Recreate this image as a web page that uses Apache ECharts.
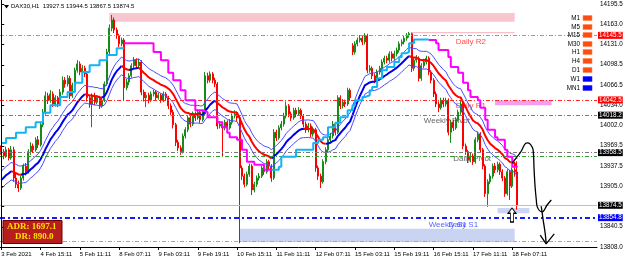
<!DOCTYPE html>
<html>
<head>
<meta charset="utf-8">
<script src="https://cdn.jsdelivr.net/npm/echarts/dist/echarts.min.js"></script>
<style>
  html, body { margin: 0; padding: 0; background: #fff; }
  #chart { width: 625px; height: 267px; }
</style>
</head>
<body>
<div id="chart"></div>
<script>
// DAX30 H1 bars
var opens = [
  13966,13960,13953,13963,13950,13963,13918,13908,13902,13918,
  13937,13928,13960,13969,13963,13979,13971,14003,14023,14049,
  14042,14052,14036,14046,14036,14055,14074,14068,14077,14049,
  14066,14090,14100,14087,14093,14084,14046,14036,14049,14039,
  14046,14033,14042,14068,14119,14157,14170,14154,14145,14132,
  14138,14062,14071,14081,14097,14106,14097,14103,14055,14046,
  14050,14042,14052,14055,14046,14050,14042,14052,14046,14033,
  14023,14003,13975,13966,13960,13985,13995,14014,14004,14020,
  14014,14023,14011,14020,14081,14074,14084,14074,14068,14001,
  14004,13998,14007,13998,14007,14017,14020,14014,13934,13921,
  13908,13924,13937,13899,13908,13918,13921,13934,13928,13944,
  13937,13918,13991,13982,13998,14004,14017,14033,14020,14014,
  14026,14020,14026,14017,14004,13995,14001,13988,13995,13934,
  13921,13912,13944,13963,13979,13985,14004,13991,14046,14033,
  14039,14036,14058,14129,14119,14132,14138,14141,14135,14145,
  14090,14093,14081,14074,14087,14093,14103,14109,14106,14116,
  14109,14116,14122,14132,14135,14141,14146,14148,14093,14106,
  14109,14077,14097,14103,14109,14087,14074,14052,14036,14030,
  14042,14036,14042,13991,14007,13998,14011,14023,14036,13969,
  13960,13947,13953,13944,13979,13988,13963,13937,13893,13912,
  13921,13937,13931,13940,13928,13918,13893,13928,13905,13931,
  13927.5
];
var closes = [
  13960,13953,13963,13950,13963,13918,13908,13902,13918,13937,
  13928,13960,13969,13963,13979,13971,14003,14023,14049,14042,
  14052,14036,14046,14036,14055,14074,14068,14077,14049,14066,
  14090,14100,14087,14093,14084,14046,14036,14049,14039,14046,
  14033,14042,14068,14119,14157,14170,14154,14145,14132,14138,
  14062,14071,14081,14097,14106,14097,14103,14055,14046,14050,
  14042,14052,14055,14046,14050,14042,14052,14046,14033,14023,
  14003,13975,13966,13960,13985,13995,14014,14004,14020,14014,
  14023,14011,14020,14081,14074,14084,14074,14068,14001,14004,
  13998,14007,13998,14007,14017,14020,14014,13934,13921,13908,
  13924,13937,13899,13908,13918,13921,13934,13928,13944,13937,
  13918,13991,13982,13998,14004,14017,14033,14020,14014,14026,
  14020,14026,14017,14004,13995,14001,13988,13995,13934,13921,
  13912,13944,13963,13979,13985,14004,13991,14046,14033,14039,
  14036,14058,14046,14119,14132,14138,14141,14135,14145,14090,
  14093,14081,14074,14087,14093,14103,14109,14106,14116,14109,
  14116,14122,14132,14135,14141,14146,14148,14093,14106,14109,
  14077,14097,14103,14109,14087,14074,14052,14036,14030,14042,
  14036,14042,13991,14007,13998,14011,14023,14036,13969,13960,
  13947,13953,13944,13979,13988,13963,13937,13893,13912,13921,
  13937,13931,13940,13928,13918,13893,13928,13905,13931,13927.5,
  13874.5
];
var lows = [
  13955,13948,13950,13946,13947,13912,13902,13896,13899,13914,
  13922,13925,13955,13958,13960,13966,13968,13999,14019,14036,
  14038,14031,14032,14031,14033,14051,14062,14064,14044,14046,
  14063,14086,14082,14083,14079,14040,14030,13999,14034,14036,
  14028,14030,14039,14065,14115,14152,14149,14140,14127,14128,
  14042,14058,14066,14078,14093,14092,14094,14050,14040,14031,
  14037,14039,14048,14042,14043,14038,14039,14041,14028,14018,
  13997,13969,13961,13955,13957,13981,13991,13999,14001,14009,
  14011,14006,14008,14017,14069,14070,14069,14063,13996,13997,
  13952,13994,13993,13995,14003,14013,14009,13814,13915,13903,
  13905,13920,13891,13895,13904,13914,13918,13923,13925,13932,
  13912,13915,13977,13979,13994,14000,14013,14015,14009,14011,
  14015,14017,14012,13999,13990,13991,13983,13984,13928,13915,
  13902,13909,13940,13959,13975,13981,13986,13988,14028,14029,
  14031,14033,14041,14114,14115,14128,14134,14130,14131,14085,
  14086,14076,14069,14071,14083,14089,14099,14101,14102,14104,
  14106,14112,14118,14128,14131,14137,14142,14087,14089,14102,
  14072,14073,14093,14099,14082,14069,14047,14031,14023,14027,
  14031,14032,13986,13974,13993,13995,14008,14019,13964,13955,
  13942,13943,13939,13941,13975,13958,13932,13888,13872,13908,
  13917,13926,13927,13923,13913,13888,13890,13883,13902,13920,
  13867.5
];
var highs = [
  13970,13964,13968,13966,13969,13968,13925,13914,13922,13941,
  13942,13964,13975,13973,13983,13985,14007,14028,14056,14054,
  14058,14056,14050,14049,14060,14080,14079,14082,14081,14070,
  14094,14106,14104,14098,14097,14087,14050,14053,14054,14050,
  14049,14046,14072,14124,14163,14178,14174,14158,14148,14142,
  14141,14076,14085,14101,14111,14109,14108,14106,14059,14055,
  14054,14056,14059,14058,14054,14053,14056,14055,14049,14037,
  14027,14006,13979,13970,13989,13999,14018,14017,14024,14024,
  14027,14026,14025,14087,14086,14088,14087,14078,14071,14009,
  14008,14011,14010,14012,14021,14026,14024,14018,13938,13925,
  13928,13941,13940,13912,13922,13926,13938,13938,13948,13947,
  13940,13996,13995,14002,14009,14022,14040,14036,14024,14030,
  14030,14031,14029,14020,14008,14006,14005,14000,13998,13938,
  13925,13948,13967,13983,13990,14009,14007,14050,14050,14044,
  14043,14062,14061,14133,14136,14142,14146,14145,14149,14148,
  14098,14096,14085,14091,14097,14107,14113,14113,14120,14120,
  14121,14126,14136,14139,14145,14149,14151,14150,14110,14114,
  14112,14101,14108,14113,14112,14090,14077,14056,14040,14046,
  14046,14046,14045,14011,14011,14015,14027,14041,14040,13973,
  13963,13958,13957,13983,13992,13991,13966,13940,13916,13925,
  13941,13942,13944,13943,13932,13921,13932,13931,13935,13944,
  13944.5
];
var emptyBars = 32;   // chart shift on the right

// trailing stop line: [bar, level] change points
var trailUp1 = [[0,13974],[2,13982],[6,13990],[10,13999],[14,14007],[17,14022],[20,14034],[24,14047],
  [27,14055],[30,14070],[33,14087],[36,14098],[40,14106],[43,14114],[47,14125],[50,14125]];
var trailDn1 = [[50,14133],[62,14119],[65,14106],[68,14086],[70,14074],[73,14058],[75,14042],[79,14026],
  [82,14023],[84,14015],[88,14007],[90,13999],[92,13990],[93,13983],[96,13979],[98,13963],[100,13944],
  [103,13939],[107,13931],[110,13931]];
var trailUp2 = [[110,13931],[113,13936],[114,13952],[120,13963],[127,13974],[129,13979],[131,13983],
  [133,13999],[136,14006],[138,14015],[141,14026],[143,14034],[144,14042],[147,14047],[148,14050],
  [150,14058],[151,14063],[153,14077],[155,14090],[157,14095],[160,14103],[162,14111],[163,14117],
  [165,14119],[166,14133],[168,14139],[174,14139]];
var trailDn2 = [[174,14138],[177,14133],[178,14122],[182,14111],[183,14095],[186,14086],[188,14070],
  [190,14058],[191,14047],[194,14042],[195,14030],[197,14011],[198,13995],[201,13983],[202,13979],
  [205,13963],[206,13952],[208,13936],[210,13936]];

var maPeriod = 20, maSeed = 13910, envPct = 0.001;

var xTickLabels = ['3 Feb 2021','4 Feb 15:11','5 Feb 11:11','8 Feb 07:11','9 Feb 03:11','9 Feb 19:11',
  '10 Feb 15:11','11 Feb 11:11','12 Feb 07:11','15 Feb 03:11','15 Feb 19:11','16 Feb 15:11',
  '17 Feb 11:11','18 Feb 07:11'];
var yTickLabels = ['13808.0','13840.5','','13905.0','13937.5','13969.5','14002.0','14034.0',
  '14066.5','14098.5','14131.0','14163.0','14195.5'];

// pivot levels
var levelPrices = [14145.5, 14042.5, 14018.2, 13958.5, 13952.0, 13874.5, 13854.8, 13817.5];
var levelNames  = ['Daily R2', 'Daily R1', 'Weekly Pivot', 'Daily Pivot', '', '', 'Weekly S1', ''];
var extraLabel  = 'Daily S1';

// zones: [fromBar, toBar, top, bottom]
var zones = [
  [44, 209, 14181, 14167],
  [167, 209, 14151, 14149],
  [201, 224, 14042, 14034],
  [202, 215, 13870, 13862],
  [97, 209, 13837, 13816]
];

var tfNames = ['M1','M5','M15','M30','H1','H4','D1','W1','MN1'];
var tfTrend = ['dn','dn','dn','dn','dn','dn','dn','up','up'];
var adrValue = '1697.1', drValue = '890.0';

// hand drawn arrow (bar, price)
var sketchA = [[208.0,13942],[211.2,13958],[214.1,13974],[215.3,13972],[216.5,13963],[216.9,13931],
  [217.3,13904],[217.8,13883],[218.2,13872],[220.2,13864],[222.2,13875],[223.9,13883]];
var sketchB = [[219.8,13873],[220.6,13851],[221.4,13830],[221.8,13814]];
var sketchHead = [[219.4,13827],[221.8,13813],[225.1,13829]];

// ---------------------------------------------------------------
var chart = echarts.init(document.getElementById('chart'));
var n = closes.length, nAll = n + emptyBars;
var cats = [];
for (var i = 0; i < nAll; i++) cats.push('' + i);
var candles = closes.map(function (c, i) { return [opens[i], c, lows[i], highs[i]]; });

var ma = [], prev = maSeed, k = 2 / (maPeriod + 1);
closes.forEach(function (c) { prev = prev + k * (c - prev); ma.push(prev); });
var maUp = [], maDn = [], envHi = [], envLo = [];
for (i = 0; i < n; i++) {
  var up = i > 0 ? ma[i] >= ma[i - 1] : true;
  var upNext = i < n - 1 ? ma[i + 1] >= ma[i] : up;
  maUp.push(up || upNext ? ma[i] : null);
  maDn.push(!up || !upNext ? ma[i] : null);
  envHi.push(ma[i] * (1 + envPct));
  envLo.push(ma[i] * (1 - envPct));
}

var yMin = 13808, yStep = (14195.5 - 13808) / 12;
var FONT = '"Liberation Sans", Arial, sans-serif';
var SERIF = '"Liberation Serif", "DejaVu Serif", serif';

var levelStyle = [
  { color: '#ff7070', width: 1, type: [4, 2, 1, 2], box: '#ff0000' },
  { color: '#ff2a2a', width: 1, type: [4, 2, 1, 2], box: '#ff0000' },
  { color: '#7a7a7a', width: 1, type: [4, 2, 1, 2], box: '#000000' },
  { color: '#7a7a7a', width: 1, type: [4, 2, 1, 2], box: '#000000' },
  { color: '#2e9e2e', width: 1, type: [4, 2, 1, 2], box: null },
  { color: '#c0c0c0', width: 1, type: 'solid', box: '#000000' },
  { color: '#1a1aff', width: 2, type: [5, 3, 2, 3], box: '#0000ff' },
  { color: '#ff8a50', width: 1, type: [4, 2, 1, 2], box: null }
];
var levelLines = levelPrices.map(function (p, j) {
  var s = levelStyle[j];
  return {
    yAxis: p,
    lineStyle: { color: s.color, width: s.width, type: s.type },
    label: s.box ? {
      show: true, position: 'end', distance: 1,
      formatter: p.toFixed(1), color: '#fff', backgroundColor: s.box,
      fontSize: 6.3, fontFamily: FONT, padding: [1, 1, 0, 1]
    } : { show: false }
  };
});

var zoneColors = ['#f9c6d0', '#f6c0ca', '#f49ef0', '#ccd6f4', '#c9d4f3'];
var zoneAreas = zones.map(function (z, j) {
  return [{ coord: [z[0], z[2]], itemStyle: { color: zoneColors[j] } }, { coord: [z[1], z[3]] }];
});

// label spots: bar index where the text starts, pixel offset under its line
var labelSpots = [[185, 6, '#ff2020'], [185, 6, '#ff2020'], [172, 6, '#404040'], [184, 6, '#404040'],
  null, null, [174, 7, '#2a3cff'], null];
var levelTexts = [];
levelNames.forEach(function (nm, j) {
  if (!nm || !labelSpots[j]) return;
  levelTexts.push({ value: [labelSpots[j][0], levelPrices[j]], name: nm,
    label: { offset: [0, labelSpots[j][1]], color: labelSpots[j][2] } });
});
levelTexts.push({ value: [182, levelPrices[6]], name: extraLabel, label: { offset: [0, 7], color: '#2a3cff' } });

function stepLine(data, color) {
  return {
    type: 'line', data: data, step: 'end', symbol: 'none', silent: true, z: 5,
    lineStyle: { color: color, width: 2 }
  };
}
function plainLine(data, color, width, z) {
  return {
    type: 'line', data: data, symbol: 'none', silent: true, z: z, connectNulls: false,
    lineStyle: { color: color, width: width }
  };
}
function sketch(data, smooth) {
  return {
    type: 'line', xAxisIndex: 1, data: data, symbol: 'none', silent: true, z: 8, smooth: smooth,
    lineStyle: { color: '#000', width: 1.3 }
  };
}

var tfY = [18, 27, 35, 44, 52, 61, 70, 79, 88];
var graphics = [
  { type: 'line', shape: { x1: 1.5, y1: 0, x2: 1.5, y2: 247 }, style: { stroke: '#000', lineWidth: 1 }, z: 20 },
  { type: 'polygon', shape: { points: [[4, 5], [9, 5], [6.5, 8.5]] }, style: { fill: '#000' }, z: 20 },
  { type: 'text', x: 11, y: 3, z: 20, style: {
      text: 'DAX30,H1  ' + [opens[n - 1], highs[n - 1], lows[n - 1], closes[n - 1]].map(function (v) { return v.toFixed(1); }).join(' '),
      fill: '#000', font: '6px ' + FONT } },
  { type: 'rect', shape: { x: 3, y: 220.5, width: 59, height: 23 }, z: 20,
    style: { fill: '#b81d1d', stroke: '#6e0000', lineWidth: 1 } },
  { type: 'text', x: 7, y: 222.5, z: 21, style: { text: 'ADR: ' + adrValue, fill: '#ffe100',
      font: 'bold 9px ' + SERIF } },
  { type: 'text', x: 15, y: 232.5, z: 21, style: { text: 'DR: ' + drValue, fill: '#ffe100',
      font: 'bold 9px ' + SERIF } }
];
tfNames.forEach(function (nm, j) {
  graphics.push({ type: 'text', x: 580, y: tfY[j], z: 20, style: { text: nm, fill: '#000',
    font: '6.3px ' + FONT, align: 'right', verticalAlign: 'middle' } });
  graphics.push({ type: 'rect', shape: { x: 583, y: tfY[j] - 2.5, width: 9, height: 5 }, z: 20,
    style: { fill: tfTrend[j] === 'up' ? '#0000ff' : '#ff4a10', stroke: tfTrend[j] === 'up' ? '#3030ff' : '#ff8a50', lineWidth: 0.6 } });
});

var option = {
  animation: false,
  backgroundColor: '#ffffff',
  textStyle: { fontFamily: FONT },
  grid: { left: 0, right: 28, top: 4, bottom: 20, containLabel: false, outerBoundsMode: 'none' },
  xAxis: [{
    type: 'category', data: cats, boundaryGap: true,
    axisLine: { show: true, lineStyle: { color: '#000', width: 1 } },
    axisTick: { show: true, length: 3, alignWithLabel: true, lineStyle: { color: '#000' },
      interval: function (idx) { return idx % 16 === 0 && idx < n; } },
    axisLabel: { show: true, fontSize: 6, color: '#000', fontFamily: FONT, margin: 4, align: 'left',
      interval: function (idx) { return idx % 16 === 0 && idx < n; },
      formatter: function (v, idx) { return xTickLabels[idx / 16] || ''; } },
    splitLine: { show: false }
  }, {
    type: 'value', min: -0.5, max: nAll - 0.5, show: false
  }],
  yAxis: {
    type: 'value', position: 'right', min: yMin, max: yMin + 12 * yStep, interval: yStep, scale: true,
    axisLine: { show: true, lineStyle: { color: '#000', width: 1 } },
    axisTick: { show: true, length: 3, lineStyle: { color: '#000' } },
    axisLabel: { show: true, fontSize: 6.3, color: '#000', fontFamily: FONT, margin: 3,
      formatter: function (v) {
        var j = Math.round((v - yMin) / yStep);
        return Math.abs(yMin + j * yStep - v) < 0.05 ? (yTickLabels[j] || '') : '';
      } },
    splitLine: { show: false }
  },
  graphic: graphics,
  series: [
    {
      type: 'line', data: [], silent: true, z: 1,
      markArea: { silent: true, data: zoneAreas },
      markLine: { silent: true, symbol: ['none', 'none'], animation: false, data: levelLines }
    },
    {
      type: 'scatter', xAxisIndex: 1, data: levelTexts, symbolSize: 0, silent: true, z: 2,
      label: { show: true, position: 'right', distance: 0, fontSize: 8, fontFamily: FONT,
        formatter: function (p) { return p.name; } }
    },
    {
      type: 'candlestick', data: candles, barWidth: 1.5, silent: true, z: 3,
      itemStyle: { color: '#178a17', color0: '#ff0000', borderColor: '#178a17', borderColor0: '#ff0000', borderWidth: 1 }
    },
    plainLine(envHi, '#4b4bff', 1, 4),
    plainLine(envLo, '#4b4bff', 1, 4),
    plainLine(maUp, '#0000ee', 2, 4),
    plainLine(maDn, '#ff0000', 2, 4),
    stepLine(trailUp1, '#12b4f2'),
    stepLine(trailDn1, '#ff00ff'),
    stepLine(trailUp2, '#12b4f2'),
    stepLine(trailDn2, '#ff00ff'),
    sketch(sketchA, 0.45),
    sketch(sketchB, 0.3),
    Object.assign(sketch(sketchHead, false), {
      markPoint: {
        silent: true, symbol: 'path://M5,0 L10,6 L7,6 L7,16 L3,16 L3,6 L0,6 Z', symbolSize: [8, 14],
        itemStyle: { color: '#fff', borderColor: '#000', borderWidth: 1 }, label: { show: false },
        data: [{ coord: [207.9, 13859] }]
      }
    })
  ]
};
chart.setOption(option);
</script>
</body>
</html>
